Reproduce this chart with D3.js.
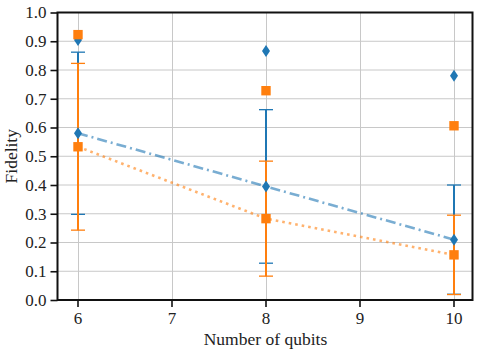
<!DOCTYPE html>
<html>
<head>
<meta charset="utf-8">
<script src="https://cdn.jsdelivr.net/npm/d3@7"></script>
<style>
  body { margin: 0; background: #fff; }
  text { font-family: "Liberation Serif", "DejaVu Serif", serif; }
</style>
</head>
<body>
<div id="chart"></div>
<script>
const FRAME_WIDTH = 479;
const FRAME_HEIGHT = 353;
const MARGINS = { left: 57.5, right: 6.5, top: 12.5, bottom: 53 };

const QUBITS = [6, 8, 10];
// blue series (dash-dot)
const BLUE_MEAN = [0.58, 0.395, 0.21];
const BLUE_ERR = [0.282, 0.267, 0.19];
const BLUE_MAX = [0.904, 0.866, 0.78];
// orange series (dotted)
const ORANGE_MEAN = [0.533, 0.283, 0.157];
const ORANGE_ERR = [0.29, 0.2, 0.138];
const ORANGE_MAX = [0.923, 0.728, 0.606];

const X_TICKS = [6, 7, 8, 9, 10];
const Y_TICKS = [0, 0.1, 0.2, 0.3, 0.4, 0.5, 0.6, 0.7, 0.8, 0.9, 1.0];

const BLUE = "#1f77b4";
const ORANGE = "#ff7f0e";

const VIS_WIDTH = FRAME_WIDTH - MARGINS.left - MARGINS.right;
const VIS_HEIGHT = FRAME_HEIGHT - MARGINS.top - MARGINS.bottom;

const svg = d3.select("#chart").append("svg")
  .attr("width", FRAME_WIDTH)
  .attr("height", FRAME_HEIGHT);

const X = d3.scaleLinear().domain([5.79, 10.2]).range([0, VIS_WIDTH]);
const Y = d3.scaleLinear().domain([0, 1]).range([VIS_HEIGHT, 0]);
// lands on a whole pixel once the .5 group offset is added
const XC = v => Math.round(X(v)) + 0.5;

const g = svg.append("g")
  .attr("transform", "translate(" + MARGINS.left + "," + MARGINS.top + ")");

// grid
g.append("g").selectAll("line").data(Y_TICKS).enter().append("line")
  .attr("x1", 0).attr("x2", VIS_WIDTH)
  .attr("y1", d => Y(d)).attr("y2", d => Y(d))
  .attr("stroke", "#c8c8c8").attr("stroke-width", 1);
g.append("g").selectAll("line").data(X_TICKS).enter().append("line")
  .attr("x1", d => XC(d) + 0.5).attr("x2", d => XC(d) + 0.5)
  .attr("y1", 0).attr("y2", VIS_HEIGHT)
  .attr("stroke", "#c8c8c8").attr("stroke-width", 1);

function series(mean, err, maxv, color, dash, marker) {
  const pts = QUBITS.map((q, i) => ({ q: q, m: mean[i], e: err[i], mx: maxv[i] }));
  // error bars
  const eb = g.append("g");
  eb.selectAll(".v").data(pts).enter().append("line")
    .attr("x1", d => XC(d.q)).attr("x2", d => XC(d.q))
    .attr("y1", d => Y(d.m - d.e)).attr("y2", d => Y(d.m + d.e))
    .attr("stroke", color).attr("stroke-width", 2);
  [-1, 1].forEach(s => {
    eb.selectAll(".c" + s).data(pts).enter().append("line")
      .attr("x1", d => XC(d.q) - 7).attr("x2", d => XC(d.q) + 7)
      .attr("y1", d => Y(d.m + s * d.e)).attr("y2", d => Y(d.m + s * d.e))
      .attr("stroke", color).attr("stroke-width", 1.3);
  });
  return { pts: pts, color: color, dash: dash, marker: marker };
}

const sB = series(BLUE_MEAN, BLUE_ERR, BLUE_MAX, BLUE, "10,4,2,4", "diamond");
const sO = series(ORANGE_MEAN, ORANGE_ERR, ORANGE_MAX, ORANGE, "2.6,4", "square");

[sB, sO].forEach(s => {
  const line = d3.line().x(d => XC(d.q)).y(d => Y(d.m));
  g.append("path").datum(s.pts)
    .attr("d", line)
    .attr("fill", "none")
    .attr("stroke", s.color)
    .attr("stroke-opacity", 0.6)
    .attr("stroke-width", 2.6)
    .attr("stroke-dasharray", s.dash);
});

function drawMarkers(s, key) {
  const path = s.marker === "diamond"
    ? "M0,-6 L4,0 L0,6 L-4,0 Z"
    : "M-4.7,-4.7 L4.7,-4.7 L4.7,4.7 L-4.7,4.7 Z";
  g.append("g").selectAll("path").data(s.pts).enter().append("path")
    .attr("transform", d => "translate(" + XC(d.q) + "," + Y(d[key]) + ")")
    .attr("d", path)
    .attr("fill", s.color);
}
drawMarkers(sB, "m");
drawMarkers(sO, "m");
drawMarkers(sB, "mx");
drawMarkers(sO, "mx");

// axes
const xAxis = g.append("g")
  .attr("transform", "translate(0," + VIS_HEIGHT + ")")
  .call(d3.axisBottom(X).tickValues(X_TICKS).tickFormat(d3.format("d")).tickSizeOuter(0).tickSize(7).tickPadding(5));
const yAxis = g.append("g")
  .call(d3.axisLeft(Y).tickValues(Y_TICKS).tickFormat(d3.format(".1f")).tickSizeOuter(0).tickSize(7).tickPadding(4));
[xAxis, yAxis].forEach(a => {
  a.selectAll("path").remove();
  a.selectAll("line").attr("stroke", "#111").attr("stroke-width", 1.6);
  a.selectAll("text").attr("font-size", "17px").attr("fill", "#222")
    .attr("font-family", "'Liberation Serif', serif");
});
xAxis.selectAll(".tick").attr("transform", d => "translate(" + XC(d) + ",0)");

// frame
g.append("rect")
  .attr("x", 0).attr("y", 0)
  .attr("width", VIS_WIDTH).attr("height", VIS_HEIGHT)
  .attr("fill", "none").attr("stroke", "#111").attr("stroke-width", 2);

svg.append("text")
  .attr("x", MARGINS.left + X(8)).attr("y", 345)
  .attr("text-anchor", "middle")
  .attr("font-size", "17.5px").attr("fill", "#222")
  .text("Number of qubits");

svg.append("text")
  .attr("transform", "translate(17," + (MARGINS.top + VIS_HEIGHT / 2) + ") rotate(-90)")
  .attr("text-anchor", "middle")
  .attr("font-size", "17.5px").attr("fill", "#222")
  .text("Fidelity");
</script>
</body>
</html>
